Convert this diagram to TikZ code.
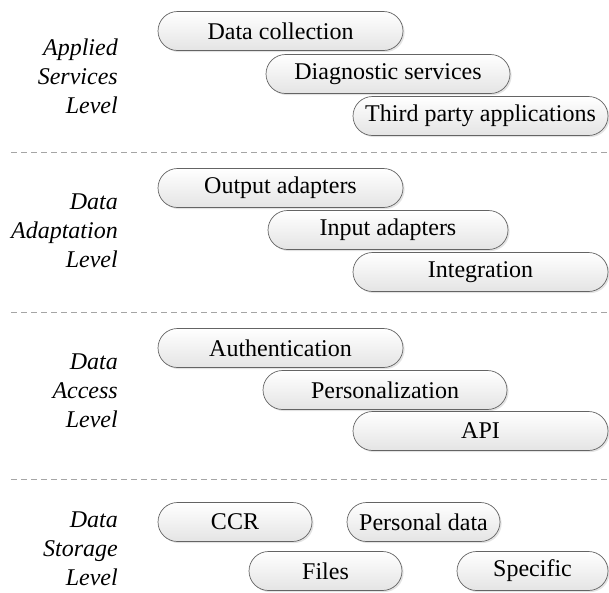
\documentclass[tikz,border=0pt]{standalone}
\usepackage{fontspec}
\setmainfont{Liberation Serif}
\usetikzlibrary{shadows}
\definecolor{boxline}{RGB}{100,100,100}
\definecolor{boxbottom}{RGB}{228,228,228}
\definecolor{sepgray}{RGB}{165,165,165}

\tikzset{
    svc/.style={draw=boxline, line width=0.7pt, rounded corners=19.5pt,
        minimum height=39pt, inner sep=2pt, top color=white, bottom color=boxbottom,
        drop shadow={opacity=0.22, shadow xshift=1.6pt, shadow yshift=-1.6pt},
        font=\fontsize{24}{28}\selectfont},
    lvl/.style={anchor=east, align=right, inner sep=0pt,
        font=\fontsize{24}{29}\selectfont\itshape},
    sepline/.style={draw=sepgray, line width=0.8pt, dash pattern=on 6pt off 4pt}
}

\begin{document}
\begin{tikzpicture}[x=1pt, y=-1pt]
\useasboundingbox (0, 0) rectangle (609, 592);

% Applied services
\begin{scope}
    % Level label.
    \node[lvl] (labA) at (118, 76) {Applied\\Services\\Level};
    % Defining nodes.
    \node[svc, minimum width=245pt] (collect) at (280.5, 31) {Data collection};
    \node[svc, minimum width=244pt] (diag) at (388, 74) {Diagnostic services};
    \node[svc, minimum width=255pt] (third) at (480.5, 116) {Third party applications};
\end{scope}

\coordinate (sepA-l) at (11, 152);
\coordinate (sepA-r) at (608, 152);
\draw[sepline] (sepA-l) -- (sepA-r);

% Data adaptation
\begin{scope}
    % Level label.
    \node[lvl] (labB) at (118, 231) {Data\\Adaptation\\Level};
    % Defining nodes.
    \node[svc, minimum width=245pt] (output) at (280.5, 188) {Output adapters};
    \node[svc, minimum width=240pt] (input) at (388, 230) {Input adapters};
    \node[svc, minimum width=255pt] (integr) at (480.5, 272) {Integration};
\end{scope}

\coordinate (sepB-l) at (11, 312);
\coordinate (sepB-r) at (608, 312);
\draw[sepline] (sepB-l) -- (sepB-r);

% Data access
\begin{scope}
    % Level label.
    \node[lvl] (labC) at (118, 391) {Data\\Access\\Level};
    % Defining nodes.
    \node[svc, minimum width=245pt] (auth) at (280.5, 348) {Authentication};
    \node[svc, minimum width=244pt] (person) at (385, 390) {Personalization};
    \node[svc, minimum width=255pt] (api) at (480.5, 431) {API};
\end{scope}

\coordinate (sepC-l) at (11, 479);
\coordinate (sepC-r) at (608, 479);
\draw[sepline] (sepC-l) -- (sepC-r);

% Data storage
\begin{scope}
    % Level label.
    \node[lvl] (labD) at (118, 549) {Data\\Storage\\Level};
    % Defining nodes.
    \node[svc, minimum width=154pt] (ccr) at (235, 522) {CCR};
    \node[svc, minimum width=153pt] (pdata) at (423.5, 522) {Personal data};
    \node[svc, minimum width=153pt] (files) at (325.5, 571) {Files};
    \node[svc, minimum width=151pt] (spec) at (532.5, 571) {Specific};
\end{scope}

\end{tikzpicture}
\end{document}
